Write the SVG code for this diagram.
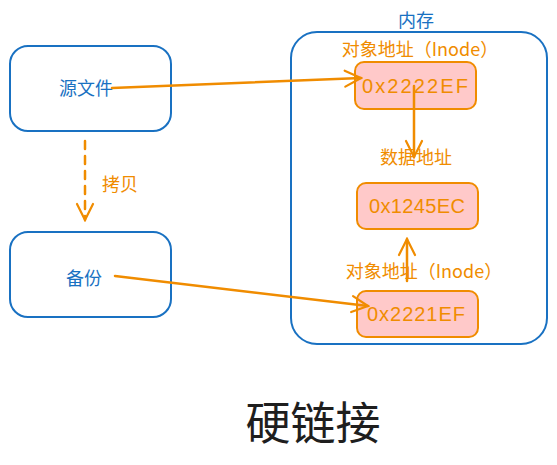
<svg xmlns="http://www.w3.org/2000/svg" width="557" height="465" viewBox="0 0 557 465">
<defs>
<style>
.blue{fill:none;stroke:#1971c2;stroke-width:2}
.addr{fill:#ffc9c9;stroke:#f08c00;stroke-width:2}
.cn{font-family:"Noto Sans CJK SC","Noto Sans",sans-serif;font-size:18px;text-anchor:middle;dominant-baseline:central}
.bt{fill:#1971c2}
.ot{fill:#f08c00}
.hex{font-family:"Liberation Sans",sans-serif;font-size:20px;fill:#f08c00;text-anchor:middle;dominant-baseline:central}
.conn{fill:none;stroke:#f08c00;stroke-width:2.5;stroke-linecap:round}
</style>
<marker id="ah" viewBox="0 0 20 20" refX="18" refY="10" markerWidth="20" markerHeight="20" markerUnits="userSpaceOnUse" orient="auto">
<path d="M2,2 L18,10 L2,18" fill="none" stroke="#f08c00" stroke-width="2.2" stroke-linecap="round"/>
</marker>
</defs>
<rect width="557" height="465" fill="#ffffff"/>
<g id="source">
<rect class="blue" x="10" y="46" width="161" height="85" rx="18"/>
<text class="cn bt" x="86" y="87">源文件</text>
</g>
<g id="backup">
<rect class="blue" x="10" y="232" width="161" height="85" rx="18"/>
<text class="cn bt" x="84" y="277">备份</text>
</g>
<g id="memory">
<rect class="blue" x="291" y="32" width="256" height="312" rx="26"/>
<text class="cn bt" x="416" y="19">内存</text>
</g>
<g id="inode1">
<text class="cn ot" x="420" y="48">对象地址（Inode）</text>
<rect class="addr" x="355" y="62" width="121" height="47" rx="9"/>
<text class="hex" x="415" y="86" textLength="106" lengthAdjust="spacing">0x2222EF</text>
</g>
<g id="data">
<text class="cn ot" x="416" y="156">数据地址</text>
<rect class="addr" x="357" y="183" width="121" height="46" rx="9"/>
<text class="hex" x="417" y="206" textLength="96" lengthAdjust="spacing">0x1245EC</text>
</g>
<g id="inode2">
<text class="cn ot" x="424" y="270">对象地址（Inode）</text>
<rect class="addr" x="357" y="291" width="121" height="46" rx="9"/>
<text class="hex" x="416" y="314" textLength="98" lengthAdjust="spacing">0x2221EF</text>
</g>
<g id="connectors">
<path class="conn" d="M112,88 L361,78" marker-end="url(#ah)"/>
<path class="conn" d="M414,86 L414,157" marker-end="url(#ah)"/>
<path class="conn" d="M407,281 L407,239" marker-end="url(#ah)"/>
<path class="conn" d="M115,276 L368,306" marker-end="url(#ah)"/>
<path class="conn" d="M85,141 L85,220" stroke-dasharray="8,7" marker-end="url(#ah)"/>
<text class="cn ot" x="120" y="183">拷贝</text>
</g>
<text x="313" y="420" font-family="Noto Sans CJK SC,sans-serif" font-size="45" fill="#1e1e1e" text-anchor="middle" dominant-baseline="central">硬链接</text>
</svg>
